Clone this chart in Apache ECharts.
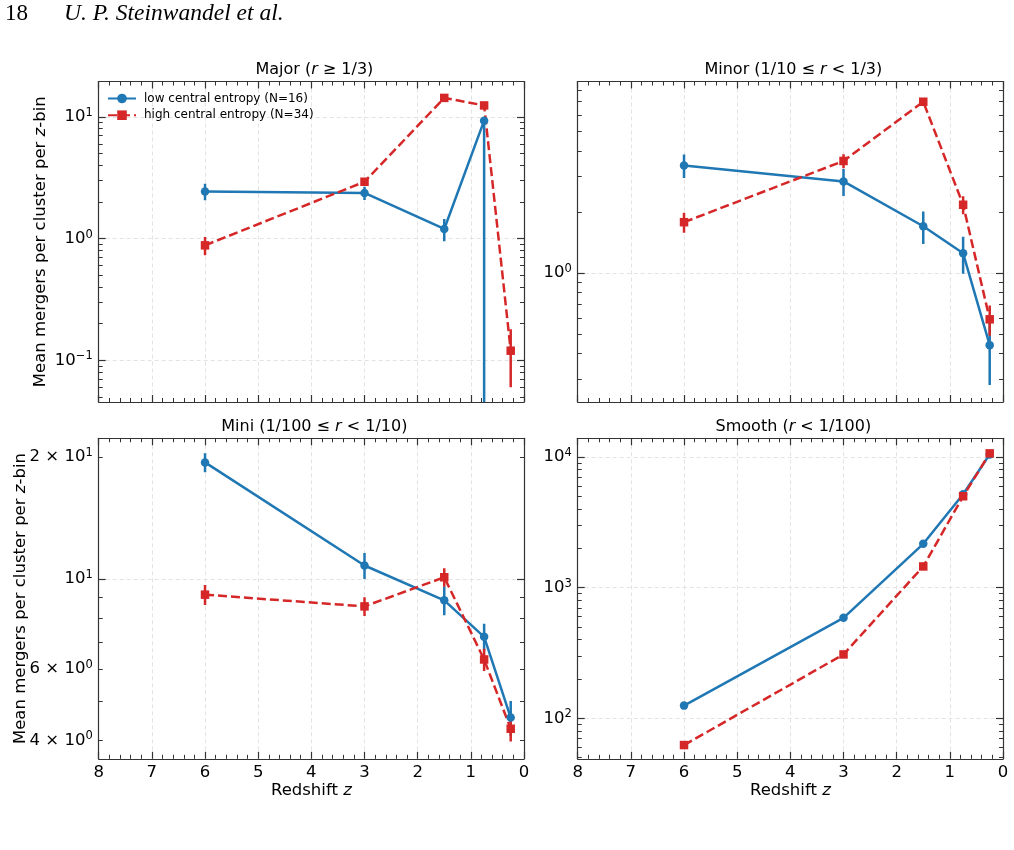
<!DOCTYPE html>
<html>
<head>
<meta charset="utf-8">
<script src="https://cdn.jsdelivr.net/npm/echarts@6/dist/echarts.min.js"></script>
</head>
<body style="margin:0; background:#fff">
<div id="container" style="width:1014px; height:850px"></div>
<script>
// redshift bin centres
var redshift = [6, 3, 1.5, 0.75, 0.25];

// Major mergers (r >= 1/3)
var lowMajor = [2.44, 2.37, 1.2, 9.3, null];
var lowMajorErr = [0.38, 0.3, 0.25, [9.3, 0.3], null];
var highMajor = [0.88, 2.93, 14.3, 12.4, 0.12];
var highMajorErr = [0.15, 0.18, 0.6, 0.6, 0.06];

// Minor mergers (1/10 <= r < 1/3)
var lowMinor = [3.39, 2.83, 1.7, 1.25, 0.44];
var lowMinorErr = [0.45, 0.43, 0.31, 0.26, 0.16];
var highMinor = [1.78, 3.57, 7.0, 2.17, 0.59];
var highMinorErr = [0.2, 0.28, 0.3, 0.22, 0.1];

// Mini mergers (1/100 <= r < 1/10)
var lowMini = [19.4, 10.8, 8.86, 7.2, 4.55];
var lowMiniErr = [1.05, 0.8, 0.72, 0.56, 0.45];
var highMini = [9.15, 8.56, 10.1, 6.33, 4.27];
var highMiniErr = [0.52, 0.45, 0.53, 0.4, 0.3];

// Smooth accretion (r < 1/100)
var lowSmooth = [125, 587, 2160, 5170, 10430];
var lowSmoothErr = [3, 10, 30, 60, 120];
var highSmooth = [62.4, 308, 1450, 4990, 10620];
var highSmoothErr = [2, 6, 20, 60, 120];

// y tick labels: value, mantissa text, exponent text
var majorLabels = [0.1, 1, 10], majorMant = ['10', '10', '10'], majorExp = ['\u22121', '0', '1'];
var minorLabels = [1], minorMant = ['10'], minorExp = ['0'];
var miniLabels = [4, 6, 10, 20], miniMant = ['4 \u00D7 10', '6 \u00D7 10', '10', '2 \u00D7 10'], miniExp = ['0', '0', '1', '1'];
var smoothLabels = [100, 1000, 10000], smoothMant = ['10', '10', '10'], smoothExp = ['2', '3', '4'];

var lowName = 'low central entropy (N=16)';
var highName = 'high central entropy (N=34)';

var fontFamily = 'DejaVu Sans';
var blue = '#1f77b4', red = '#d62728', frame = '#333';
var fs = 16.5;

var panels = [
    {title: 'Major ({i|r} \u2265 1/3)', low: lowMajor, lowErr: lowMajorErr, high: highMajor, highErr: highMajorErr,
     yRange: [0.0455, 19.5], labels: majorLabels, mant: majorMant, exp: majorExp, majors: [0.1, 1, 10],
     left: 98.7, top: 81.5, xText: false, yName: true, nameGap: 49},
    {title: 'Minor (1/10 \u2264 {i|r} < 1/3)', low: lowMinor, lowErr: lowMinorErr, high: highMinor, highErr: highMinorErr,
     yRange: [0.2305, 8.81], labels: minorLabels, mant: minorMant, exp: minorExp, majors: [1],
     left: 577.7, top: 81.5, xText: false, yName: false},
    {title: 'Mini (1/100 \u2264 {i|r} < 1/10)', low: lowMini, lowErr: lowMiniErr, high: highMini, highErr: highMiniErr,
     yRange: [3.6, 22.25], labels: miniLabels, mant: miniMant, exp: miniExp, majors: [10],
     left: 98.7, top: 438.3, xText: true, yName: true, nameGap: 69},
    {title: 'Smooth ({i|r} < 1/100)', low: lowSmooth, lowErr: lowSmoothErr, high: highSmooth, highErr: highSmoothErr,
     yRange: [49, 13850], labels: smoothLabels, mant: smoothMant, exp: smoothExp, majors: [100, 1000, 10000],
     left: 577.7, top: 438.3, xText: true, yName: false}
];

var W = 425.3, H = 320.5;
var lineSty = {color: frame, width: 1.2};
var gridSty = {color: '#e0e0e0', width: 0.9, type: [4, 3]};
var italicRich = {i: {fontStyle: 'italic', fontSize: fs, color: '#000', fontFamily: fontFamily}};

function minorTicks(range, majors) {
    var out = [];
    for (var n = Math.floor(Math.log10(range[0])); n <= Math.ceil(Math.log10(range[1])); n++) {
        for (var k = 1; k <= 9; k++) {
            var v = k * Math.pow(10, n);
            if (v >= range[0] && v <= range[1] && majors.indexOf(v) < 0) out.push(v);
        }
    }
    return out;
}

function pairs(vals) {
    var out = [];
    vals.forEach(function (v, k) { if (v != null) out.push([redshift[k], v]); });
    return out;
}

function errData(vals, errs, yMin) {
    var out = [];
    vals.forEach(function (v, k) {
        if (v == null) return;
        var e = errs[k];
        var dn = Array.isArray(e) ? e[0] : e, up = Array.isArray(e) ? e[1] : e;
        out.push([redshift[k], Math.max(v - dn, yMin), v + up]);
    });
    return out;
}

function renderErr(params, api) {
    var p1 = api.coord([api.value(0), api.value(1)]);
    var p2 = api.coord([api.value(0), api.value(2)]);
    return {
        type: 'line',
        shape: {x1: p1[0], y1: p1[1], x2: p2[0], y2: p2[1]},
        style: {stroke: api.visual('color'), lineWidth: 2.5}
    };
}

var grids = [], xAxes = [], yAxes = [], series = [], titles = [];

panels.forEach(function (p, i) {
    grids.push({left: p.left, top: p.top, width: W, height: H});

    titles.push({
        text: p.title, left: p.left + W / 2 - 2, top: p.top - 24.5, textAlign: 'center',
        textStyle: {fontSize: 16, fontWeight: 'normal', color: '#000', fontFamily: fontFamily,
            rich: {i: {fontStyle: 'italic', fontSize: 16, color: '#000', fontFamily: fontFamily}}}
    });

    ['bottom', 'top'].forEach(function (pos) {
        var isBottom = pos === 'bottom';
        xAxes.push({
            type: 'value', gridIndex: i, position: pos, min: 0, max: 8, interval: 1, inverse: true,
            axisLine: {show: true, onZero: false, lineStyle: lineSty},
            axisTick: {show: true, inside: true, length: 7, lineStyle: lineSty},
            minorTick: {show: true, splitNumber: 5, length: 4, lineStyle: {color: frame, width: 1}},
            axisLabel: {show: isBottom && p.xText, fontSize: fs, color: '#000', fontFamily: fontFamily, margin: 5},
            splitLine: {show: isBottom, lineStyle: gridSty},
            name: isBottom && p.xText ? 'Redshift {i|z}' : '',
            nameLocation: 'middle', nameGap: 23, nameMoveOverlap: false,
            nameTextStyle: {fontSize: fs, color: '#000', fontFamily: fontFamily, rich: italicRich}
        });
    });

    // data axis (log scale)
    var logIndex = yAxes.length;
    yAxes.push({type: 'log', logBase: 10, gridIndex: i, min: p.yRange[0], max: p.yRange[1], show: false});

    // tick decoration axes in log10 units
    var lo = Math.log10(p.yRange[0]), hi = Math.log10(p.yRange[1]);
    var minors = minorTicks(p.yRange, p.majors);
    ['left', 'right'].forEach(function (pos) {
        var isLeft = pos === 'left';
        yAxes.push({
            type: 'value', gridIndex: i, position: pos, min: lo, max: hi,
            axisLine: {show: true, onZero: false, lineStyle: lineSty},
            axisTick: {show: true, inside: true, length: 7, lineStyle: lineSty,
                customValues: p.majors.map(Math.log10)},
            axisLabel: {show: isLeft, color: '#000', margin: 6,
                customValues: p.labels.map(Math.log10),
                rich: {
                    b: {fontSize: fs, fontFamily: fontFamily, color: '#000'},
                    s: {fontSize: 11.5, fontFamily: fontFamily, color: '#000', verticalAlign: 'top', padding: [0, 0, 8, 0]}
                },
                formatter: function (v) {
                    for (var k = 0; k < p.labels.length; k++) {
                        if (Math.abs(Math.log10(p.labels[k]) - v) < 1e-6) {
                            return '{b|' + p.mant[k] + '}{s|' + p.exp[k] + '}';
                        }
                    }
                    return '';
                }},
            splitLine: {show: isLeft, lineStyle: gridSty},
            name: isLeft && p.yName ? 'Mean mergers per cluster per {i|z}-bin' : '',
            nameLocation: 'middle', nameGap: p.nameGap || 40, nameMoveOverlap: false,
            nameTextStyle: {fontSize: fs, color: '#000', fontFamily: fontFamily, rich: italicRich}
        });
        yAxes.push({
            type: 'value', gridIndex: i, position: pos, min: lo, max: hi,
            axisLine: {show: false, onZero: false},
            axisTick: {show: true, inside: true, length: 4, lineStyle: {color: frame, width: 1},
                customValues: minors.map(Math.log10)},
            axisLabel: {show: false},
            splitLine: {show: false}
        });
    });

    var xIdx = i * 2;
    series.push({
        type: 'custom', name: 'err-low-' + i, xAxisIndex: xIdx, yAxisIndex: logIndex, clip: true,
        itemStyle: {color: blue}, renderItem: renderErr,
        encode: {x: 0, y: [1, 2]}, data: errData(p.low, p.lowErr, p.yRange[0])
    });
    series.push({
        type: 'line', name: lowName, xAxisIndex: xIdx, yAxisIndex: logIndex,
        symbol: 'circle', symbolSize: 8.5, color: blue,
        itemStyle: {color: blue}, lineStyle: {color: blue, width: 2.5},
        data: pairs(p.low)
    });
    series.push({
        type: 'custom', name: 'err-high-' + i, xAxisIndex: xIdx, yAxisIndex: logIndex, clip: true,
        itemStyle: {color: red}, renderItem: renderErr,
        encode: {x: 0, y: [1, 2]}, data: errData(p.high, p.highErr, p.yRange[0])
    });
    series.push({
        type: 'line', name: highName, xAxisIndex: xIdx, yAxisIndex: logIndex,
        symbol: 'rect', symbolSize: 8.5, color: red,
        itemStyle: {color: red}, lineStyle: {color: red, width: 2.5, type: [9, 4]},
        data: pairs(p.high)
    });
});

var myChart = echarts.init(document.getElementById('container'), null, {renderer: 'canvas'});
var option = {
    backgroundColor: '#fff',
    animation: false,
    title: titles,
    grid: grids,
    xAxis: xAxes,
    yAxis: yAxes,
    legend: {
        data: [lowName, highName], left: 102, top: 87.5, orient: 'vertical',
        itemWidth: 28, itemHeight: 12, itemGap: 4.7,
        textStyle: {fontSize: 12, color: '#000', fontFamily: fontFamily, padding: [0, 0, 0, 3]}
    },
    graphic: [
        {type: 'text', left: 5, top: 2, style: {text: '18', font: '23px "Liberation Serif"', fill: '#000'}},
        {type: 'text', left: 64, top: 2, style: {text: 'U. P. Steinwandel et al.', font: 'italic 23.5px "Liberation Serif"', fill: '#000'}}
    ],
    series: series
};
myChart.setOption(option);
</script>
</body>
</html>
